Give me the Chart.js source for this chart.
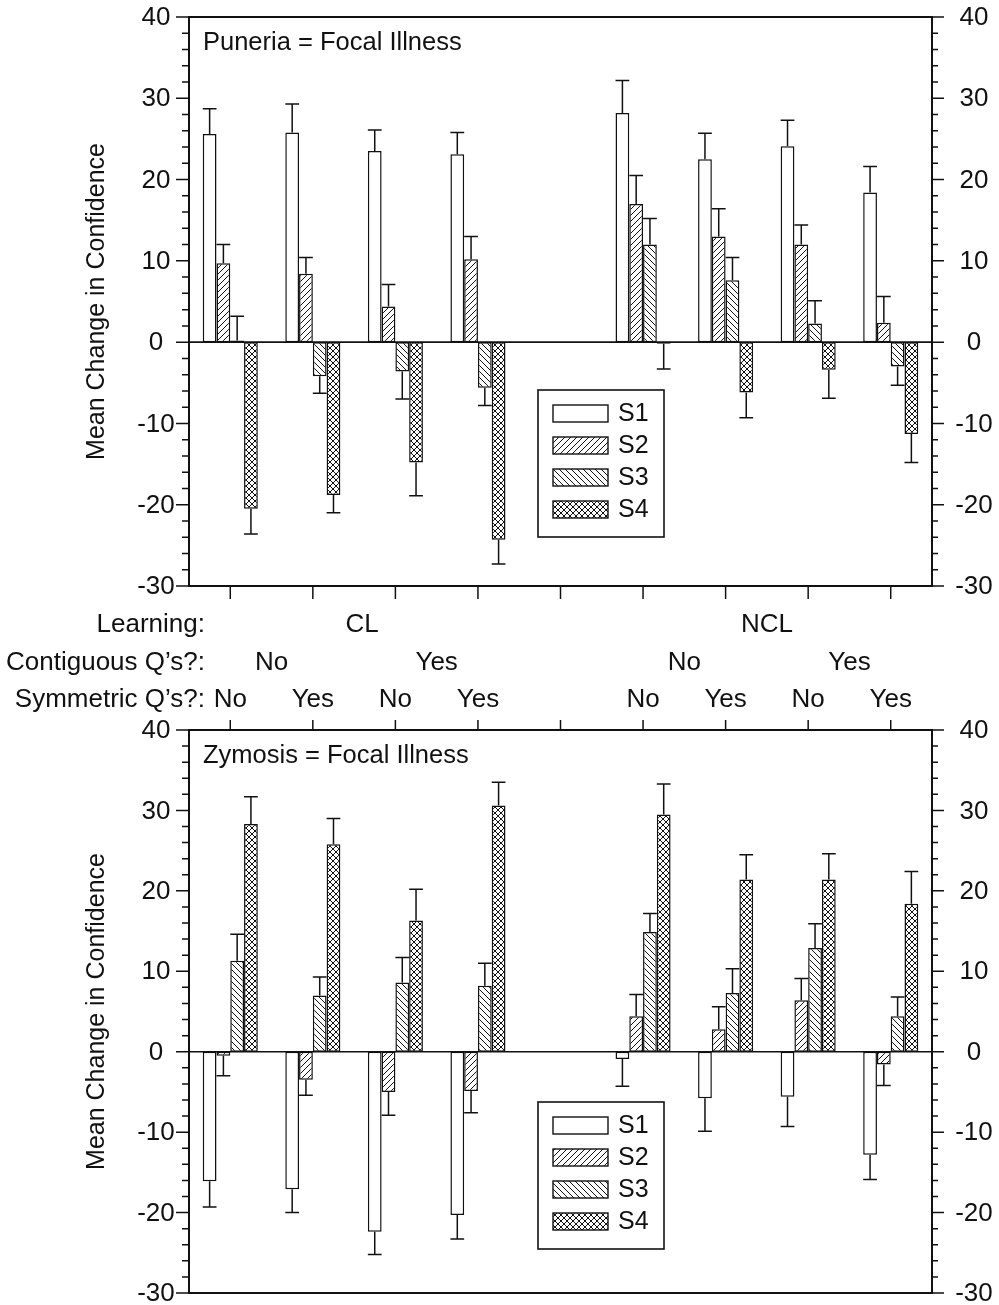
<!DOCTYPE html>
<html>
<head>
<meta charset="utf-8">
<script src="https://cdn.jsdelivr.net/npm/chart.js@4.4.1/dist/chart.umd.min.js"></script>
<style>
  html, body { margin: 0; padding: 0; background: #fff; }
  #wrap { position: relative; width: 999px; height: 1305px; }
  canvas { position: absolute; left: 0; }
  #c1 { top: 0; }
  #c2 { top: 720px; }
</style>
</head>
<body>
<div id="wrap">
  <canvas id="c1" width="999" height="720"></canvas>
  <canvas id="c2" width="999" height="585"></canvas>
</div>
<script>
// categories: 4 CL groups, empty gap, 4 NCL groups
const groups = ["CL-No-No", "CL-No-Yes", "CL-Yes-No", "CL-Yes-Yes", "", "NCL-No-No", "NCL-No-Yes", "NCL-Yes-No", "NCL-Yes-Yes"];
const learning = ["CL", "NCL"];
const contiguous = ["No", "Yes", "No", "Yes"];
const symmetric = ["No", "Yes", "No", "Yes", "", "No", "Yes", "No", "Yes"];
const seriesNames = ["S1", "S2", "S3", "S4"];
const yTicks = [40, 30, 20, 10, 0, -10, -20, -30];

// Puneria = Focal Illness
const punS1 = [25.6, 25.8, 23.5, 23.1, null, 28.2, 22.5, 24.1, 18.4];
const punS2 = [9.7, 8.4, 4.4, 10.2, null, 17.0, 13.0, 12.0, 2.4];
const punS3 = [0.2, -4.2, -3.6, -5.6, null, 12.0, 7.6, 2.3, -3.0];
const punS4 = [-20.5, -18.8, -14.8, -24.3, null, -0.2, -6.2, -3.4, -11.3];
const punE1 = [3.1, 3.5, 2.6, 2.7, null, 4.0, 3.2, 3.2, 3.2];
const punE2 = [2.3, 2.0, 2.7, 2.8, null, 3.5, 3.4, 2.4, 3.2];
const punE3 = [3.0, 2.1, 3.4, 2.2, null, 3.2, 2.8, 2.8, 2.3];
const punE4 = [3.1, 2.2, 4.1, 3.0, null, 3.1, 3.1, 3.5, 3.5];

// Zymosis = Focal Illness
const zymS1 = [-16.1, -17.1, -22.4, -20.3, null, -0.9, -5.8, -5.6, -12.8];
const zymS2 = [-0.5, -3.5, -5.0, -4.9, null, 4.4, 2.8, 6.4, -1.6];
const zymS3 = [11.3, 7.0, 8.6, 8.2, null, 14.9, 7.3, 12.9, 4.4];
const zymS4 = [28.3, 25.8, 16.3, 30.6, null, 29.5, 21.4, 21.4, 18.4];
const zymE1 = [3.2, 2.9, 2.8, 3.0, null, 3.4, 4.1, 3.7, 3.1];
const zymE2 = [2.5, 1.9, 2.9, 2.7, null, 2.7, 2.8, 2.7, 2.6];
const zymE3 = [3.3, 2.3, 3.1, 2.8, null, 2.3, 3.0, 3.0, 2.4];
const zymE4 = [3.4, 3.2, 3.9, 2.9, null, 3.8, 3.1, 3.2, 4.0];

const FONT = "'Liberation Sans', Arial, Helvetica, sans-serif";
const INK = "#111";

/* HATCH PATTERNS */
function hatch(kind){
  const s = 6;
  const c = document.createElement("canvas");
  c.width = s; c.height = s;
  const g = c.getContext("2d");
  g.fillStyle = "#fff";
  g.fillRect(0, 0, s, s);
  g.strokeStyle = INK;
  g.lineWidth = 1;
  function fwd(){
    g.beginPath();
    g.moveTo(-1, s + 1); g.lineTo(s + 1, -1);
    g.moveTo(-1, 1); g.lineTo(1, -1);
    g.moveTo(s - 1, s + 1); g.lineTo(s + 1, s - 1);
    g.stroke();
  }
  function back(){
    g.beginPath();
    g.moveTo(-1, -1); g.lineTo(s + 1, s + 1);
    g.moveTo(s - 1, -1); g.lineTo(s + 1, 1);
    g.moveTo(-1, s - 1); g.lineTo(1, s + 1);
    g.stroke();
  }
  if(kind === "fwd") fwd();
  if(kind === "back") back();
  if(kind === "cross"){ fwd(); back(); }
  return g.createPattern(c, "repeat");
}
const fills = ["#fff", hatch("fwd"), hatch("back"), hatch("cross")];

/* AXES, ERROR BARS, LEGEND */
function panelPlugin(cfg){
  return {
    id: "panel",
    afterDatasetsDraw(chart){
      const ctx = chart.ctx;
      const a = chart.chartArea;
      const y = chart.scales.y;
      const x = chart.scales.x;
      ctx.save();
      ctx.strokeStyle = INK;

      // error bars
      ctx.lineWidth = 1.5;
      cfg.errors.forEach((errs, i) => {
        const meta = chart.getDatasetMeta(i);
        meta.data.forEach((bar, j) => {
          const v = chart.data.datasets[i].data[j];
          if(v === null || errs[j] === null) return;
          const tip = v >= 0 ? v + errs[j] : v - errs[j];
          const ty = y.getPixelForValue(tip);
          const w = bar.width;
          ctx.beginPath();
          ctx.moveTo(bar.x, bar.y); ctx.lineTo(bar.x, ty);
          ctx.moveTo(bar.x - w / 2, ty); ctx.lineTo(bar.x + w / 2, ty);
          ctx.stroke();
        });
      });

      // zero line
      ctx.lineWidth = 1.6;
      const y0 = y.getPixelForValue(0);
      ctx.beginPath();
      ctx.moveTo(a.left, y0); ctx.lineTo(a.right, y0);
      ctx.stroke();

      // frame
      ctx.lineWidth = 2;
      ctx.strokeRect(a.left, a.top, a.right - a.left, a.bottom - a.top);

      // y ticks, both sides
      ctx.lineWidth = 1.5;
      for(let v = -30; v <= 40; v += 2){
        const py = y.getPixelForValue(v);
        const major = v % 10 === 0;
        ctx.beginPath();
        ctx.moveTo(a.left - (major ? 13 : 7), py); ctx.lineTo(a.left, py);
        ctx.moveTo(a.right, py); ctx.lineTo(a.right + (major ? 12 : 6), py);
        ctx.stroke();
      }
      ctx.fillStyle = INK;
      ctx.font = "26px " + FONT;
      ctx.textAlign = "center";
      ctx.textBaseline = "middle";
      yTicks.forEach(v => {
        const py = y.getPixelForValue(v) + 1;
        ctx.fillText(String(v), a.left - 33, py);
        ctx.fillText(String(v), a.right + 42, py);
      });

      // category ticks
      groups.forEach((g, j) => {
        const px = x.getPixelForValue(j);
        ctx.beginPath();
        if(cfg.ticksDown){ ctx.moveTo(px, a.bottom); ctx.lineTo(px, a.bottom + 13); }
        else { ctx.moveTo(px, a.top); ctx.lineTo(px, a.top - 11); }
        ctx.stroke();
      });

      // axis title
      ctx.save();
      ctx.translate(97, (a.top + a.bottom) / 2);
      ctx.rotate(-Math.PI / 2);
      ctx.font = "25px " + FONT;
      ctx.fillText("Mean Change in Confidence", 0, 0);
      ctx.restore();

      // panel title
      ctx.textAlign = "left";
      ctx.textBaseline = "alphabetic";
      ctx.font = "25.5px " + FONT;
      ctx.fillText(cfg.title, a.left + 14, a.top + 33);

      // legend
      const lx = 538, ly = cfg.legendTop;
      ctx.fillStyle = "#fff";
      ctx.fillRect(lx, ly, 126, 147);
      ctx.lineWidth = 1.6;
      ctx.strokeRect(lx, ly, 126, 147);
      seriesNames.forEach((n, i) => {
        const ry = ly + 23 + i * 32;
        ctx.fillStyle = fills[i];
        ctx.fillRect(lx + 15, ry - 8, 55, 17);
        ctx.lineWidth = 1.4;
        ctx.strokeRect(lx + 15, ry - 8, 55, 17);
        ctx.fillStyle = INK;
        ctx.font = "25px " + FONT;
        ctx.textBaseline = "middle";
        ctx.fillText(n, lx + 80, ry + 1);
      });

      // factor labels under the top panel
      if(cfg.factors){
        ctx.fillStyle = INK;
        ctx.font = "26px " + FONT;
        ctx.textBaseline = "middle";
        const rows = [625, 663, 700];
        ctx.textAlign = "right";
        ctx.fillText("Learning:", 205, rows[0]);
        ctx.fillText("Contiguous Q\u2019s?:", 205, rows[1]);
        ctx.fillText("Symmetric Q\u2019s?:", 205, rows[2]);
        ctx.textAlign = "center";
        const cx = j => x.getPixelForValue(j);
        ctx.fillText(learning[0], (cx(0) + cx(3)) / 2 + 8, rows[0]);
        ctx.fillText(learning[1], (cx(5) + cx(8)) / 2, rows[0]);
        const pairs = [[0, 1], [2, 3], [5, 6], [7, 8]];
        pairs.forEach((p, k) => ctx.fillText(contiguous[k], (cx(p[0]) + cx(p[1])) / 2, rows[1]));
        symmetric.forEach((s, j) => { if(s) ctx.fillText(s, cx(j), rows[2]); });
      }
      ctx.restore();
    }
  };
}

function makePanel(id, series, errors, cfg){
  return new Chart(document.getElementById(id), {
    type: "bar",
    data: {
      labels: groups,
      datasets: series.map((d, i) => ({
        label: seriesNames[i],
        data: d,
        backgroundColor: fills[i],
        borderColor: INK,
        borderWidth: 1.5,
        borderSkipped: false,
        categoryPercentage: 0.667,
        barPercentage: 1.0
      }))
    },
    options: {
      responsive: false,
      animation: false,
      devicePixelRatio: 1,
      layout: { padding: cfg.padding },
      plugins: { legend: { display: false }, tooltip: { enabled: false } },
      scales: {
        x: { display: false, offset: true },
        y: { display: false, min: -30, max: 40 }
      }
    },
    plugins: [panelPlugin(Object.assign({ errors }, cfg))]
  });
}

makePanel("c1", [punS1, punS2, punS3, punS4], [punE1, punE2, punE3, punE4], {
  title: "Puneria = Focal Illness",
  padding: { left: 189, right: 67, top: 17, bottom: 134 },
  ticksDown: true,
  legendTop: 390,
  factors: true
});

makePanel("c2", [zymS1, zymS2, zymS3, zymS4], [zymE1, zymE2, zymE3, zymE4], {
  title: "Zymosis = Focal Illness",
  padding: { left: 189, right: 67, top: 10, bottom: 12 },
  ticksDown: false,
  legendTop: 382,
  factors: false
});
</script>
</body>
</html>
